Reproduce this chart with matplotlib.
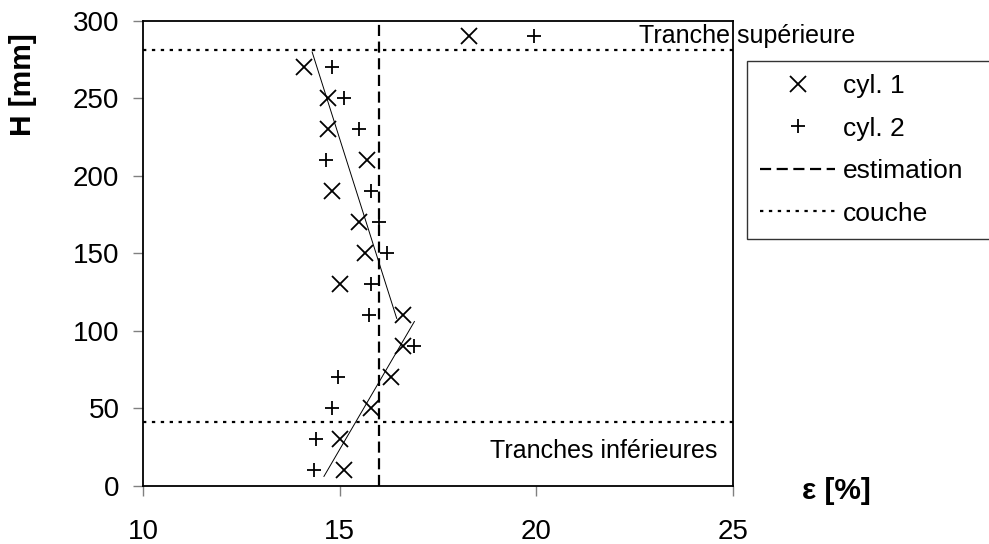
import matplotlib
matplotlib.use("Agg")
import matplotlib.pyplot as plt

plt.rcParams['font.family'] = ['Liberation Sans', 'DejaVu Sans']

h_cyl1 = [290, 270, 250, 230, 210, 190, 170, 150, 130, 110, 90, 70, 50, 30, 10]
eps_cyl1 = [18.3, 14.1, 14.7, 14.7, 15.7, 14.8, 15.5, 15.65, 15.0, 16.6, 16.6, 16.3, 15.8, 15.0, 15.1]

h_cyl2 = [290, 270, 250, 230, 210, 190, 170, 150, 130, 110, 90, 70, 50, 30, 10]
eps_cyl2 = [19.95, 14.8, 15.1, 15.5, 14.65, 15.8, 16.0, 16.2, 15.8, 15.75, 16.9, 14.95, 14.8, 14.4, 14.35]

# estimation et limites des couches
eps_estimation = 16.0
h_couches = [281, 41]

# droites de tendance (extrémités)
trend_haut_eps = [14.3, 16.45]
trend_haut_h = [280, 108]
trend_bas_eps = [14.6, 16.9]
trend_bas_h = [6, 106]

fig = plt.figure(figsize=(9.89, 5.44), dpi=100)
ax = fig.add_axes([143 / 989, 1 - 485.7 / 544, 590 / 989, 464.7 / 544])

ax.plot(eps_cyl1, h_cyl1, linestyle='none', marker='x', markersize=12,
        markeredgewidth=1.3, color='black', label='cyl. 1', clip_on=False)
ax.plot(eps_cyl2, h_cyl2, linestyle='none', marker='+', markersize=10,
        markeredgewidth=1.3, color='black', label='cyl. 2', clip_on=False)
ax.plot([eps_estimation, eps_estimation], [0, 300], color='black', lw=1.6,
        dashes=(5, 2.5), label='estimation')
for i, h in enumerate(h_couches):
    ax.plot([10, 25], [h, h], color='black', lw=1.6, dashes=(1.5, 2.5),
            label='couche' if i == 0 else None)
ax.plot(trend_haut_eps, trend_haut_h, color='black', lw=0.7)
ax.plot(trend_bas_eps, trend_bas_h, color='black', lw=0.7)

ax.set_xlim(10, 25)
ax.set_ylim(0, 300)
ax.set_xticks([10, 15, 20, 25])
ax.set_yticks(range(0, 301, 50))
ax.tick_params(axis='both', labelsize=20, length=7, width=1, color='#808080',
               direction='out')
ax.tick_params(axis='x', pad=17)
ax.tick_params(axis='y', pad=10)
for s in ax.spines.values():
    s.set_linewidth(1.3)

ax.text(22.6, 286, 'Tranche supérieure', fontsize=18, ha='left', va='baseline',
        clip_on=False)
ax.text(24.6, 18, 'Tranches inférieures', fontsize=18, ha='right',
        va='baseline')

fig.text(836 / 989, 1 - 491 / 544, 'ε [%]', fontsize=21.5, fontweight='bold',
         ha='center', va='center')
fig.text(23 / 989, 1 - 85 / 544, 'H [mm]', fontsize=21.5, fontweight='bold',
         rotation=90, ha='center', va='center')

leg = fig.legend(loc='upper left',
                 bbox_to_anchor=(747 / 989, 1 - 238 / 544, 250 / 989, 177 / 544),
                 mode='expand', fontsize=19, frameon=True, fancybox=False,
                 edgecolor='black', handlelength=2.85, handletextpad=0.3,
                 labelspacing=0.7, borderpad=0.5, borderaxespad=0)
leg.get_frame().set_linewidth(1.0)

fig.savefig('out.png', dpi=100)
